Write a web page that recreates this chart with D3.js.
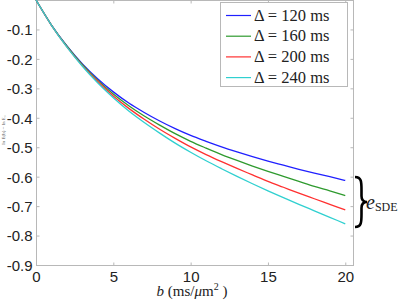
<!DOCTYPE html>
<html><head><meta charset="utf-8">
<script src="https://cdn.jsdelivr.net/npm/d3@7"></script>
<style>body{margin:0;background:#fff}svg{display:block}</style>
</head><body>
<svg id="c" width="400" height="303"></svg>
<script>
const bValues = [0,1,2,3,4,5,6,7,8,9,10,11,12,13,14,15,16,17,18,19,20];
const seriesNames = ["120","160","200","240"];
const series120 = [0,-0.085,-0.156,-0.217,-0.268,-0.312,-0.350,-0.382,-0.411,-0.437,-0.460,-0.480,-0.499,-0.516,-0.532,-0.547,-0.561,-0.575,-0.588,-0.600,-0.613];
const series160 = [0,-0.085,-0.157,-0.220,-0.273,-0.319,-0.359,-0.394,-0.425,-0.454,-0.480,-0.503,-0.525,-0.545,-0.564,-0.582,-0.599,-0.616,-0.633,-0.648,-0.664];
const series200 = [0,-0.086,-0.159,-0.223,-0.277,-0.326,-0.368,-0.405,-0.439,-0.470,-0.499,-0.525,-0.549,-0.572,-0.594,-0.616,-0.636,-0.656,-0.675,-0.694,-0.713];
const series240 = [0,-0.086,-0.160,-0.225,-0.282,-0.332,-0.377,-0.416,-0.452,-0.486,-0.517,-0.546,-0.573,-0.599,-0.624,-0.648,-0.671,-0.694,-0.716,-0.738,-0.760];
const xTicks = [0,5,10,15,20];
const yTicks = [0,-0.1,-0.2,-0.3,-0.4,-0.5,-0.6,-0.7,-0.8,-0.9];
const yTickLabels = ["","-0.1","-0.2","-0.3","-0.4","-0.5","-0.6","-0.7","-0.8","-0.9"];
const colors = ["#2020ff","#2e9a2e","#ff3030","#30d0d0"];

const allSeries = [series120, series160, series200, series240];
const svg = d3.select("#c");
const L = 36, R = 353, T = 0, B = 265;
const x = d3.scaleLinear().domain([0, 20.5]).range([L, R]);
const y = d3.scaleLinear().domain([-0.9, 0]).range([B, T]);
const axisCol = "#b8b8b8";
const font = "Liberation Sans, Arial, sans-serif";
const serif = "Liberation Serif, DejaVu Serif, serif";

svg.append("rect").attr("x", L+0.5).attr("y", T+0.5).attr("width", R-L).attr("height", B-T)
  .attr("fill", "none").attr("stroke", axisCol).attr("stroke-width", 1);

const gx = svg.append("g").attr("transform", `translate(0,${B+0.5})`)
  .call(d3.axisBottom(x).tickValues(xTicks).tickSize(-3).tickPadding(6).tickFormat(d3.format("d")));
const gxTop = svg.append("g").attr("transform", `translate(0,${T+0.5})`)
  .call(d3.axisTop(x).tickValues(xTicks).tickSize(-3).tickFormat(""));
const gy = svg.append("g").attr("transform", `translate(${L+0.5},0)`)
  .call(d3.axisLeft(y).tickValues(yTicks).tickSize(-3).tickPadding(4).tickFormat((d, i) => yTickLabels[i]));
const gyR = svg.append("g").attr("transform", `translate(${R+0.5},0)`)
  .call(d3.axisRight(y).tickValues(yTicks).tickSize(-3).tickFormat(""));
[gx, gxTop, gy, gyR].forEach(g => {
  g.select(".domain").remove();
  g.selectAll("line").attr("stroke", axisCol);
  g.selectAll("text").attr("fill", "#222").style("font-family", font).style("font-size", "15px");
});
gy.selectAll("text").attr("dy", "0.36em");

const line = d3.line().x((d, i) => x(bValues[i])).y(d => y(d)).curve(d3.curveMonotoneX);
allSeries.forEach((s, i) => {
  svg.append("path").datum(s).attr("d", line).attr("fill", "none")
    .attr("stroke", colors[i]).attr("stroke-width", 1.3);
});

const lg = svg.append("g");
lg.append("rect").attr("x", 220.5).attr("y", 2.5).attr("width", 127).attr("height", 84)
  .attr("fill", "#fff").attr("stroke", axisCol);
seriesNames.forEach((n, i) => {
  const yy = 15.5 + i * 20.7;
  lg.append("line").attr("x1", 226).attr("x2", 251).attr("y1", yy).attr("y2", yy)
    .attr("stroke", colors[i]).attr("stroke-width", 1.2);
  lg.append("text").attr("x", 254).attr("y", yy + 5)
    .style("font-family", serif).style("font-size", "16.5px").attr("fill", "#222")
    .text("Δ = " + n + " ms");
});

const xl = svg.append("text").attr("x", 192).attr("y", 296).attr("text-anchor", "middle")
  .style("font-family", serif).style("font-size", "15px").attr("fill", "#222");
xl.append("tspan").style("font-style", "italic").text("b");
xl.append("tspan").text(" (ms/");
xl.append("tspan").style("font-style", "italic").text("μ");
xl.append("tspan").text("m");
xl.append("tspan").attr("dy", -6).style("font-size", "10px").text("2");
xl.append("tspan").attr("dy", 6).text(" )");

svg.append("text").attr("transform", "translate(5,130) rotate(-90)").attr("text-anchor", "middle")
  .style("font-family", serif).style("font-size", "5px").attr("fill", "#555")
  .text("ln E(b)  −  ln E₀");

svg.append("path")
  .attr("d", "M355,177 C361.5,177 361.5,182 361.5,190 L361.5,196 C361.5,200 363,202 367,202 C363,202 361.5,204 361.5,208 L361.5,214 C361.5,222 361.5,227 355,227")
  .attr("fill", "none").attr("stroke", "#000").attr("stroke-width", 2.6);
const es = svg.append("text").attr("x", 366).attr("y", 209)
  .style("font-family", serif).style("font-size", "20px").attr("fill", "#222");
es.append("tspan").style("font-style", "italic").text("e");
es.append("tspan").attr("dy", 2).style("font-size", "12px").text("SDE");
</script>
</body></html>
